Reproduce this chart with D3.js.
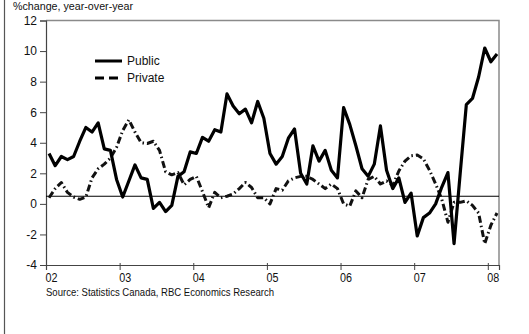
<!DOCTYPE html>
<html>
<head>
<meta charset="utf-8">
<script src="https://cdn.jsdelivr.net/npm/d3@7"></script>
<style>
  html, body { margin: 0; padding: 0; background: #fff; }
  svg { display: block; }
  .reg { font-family: "Liberation Sans", Arial, sans-serif; font-style: normal; }
</style>
</head>
<body>
<script>
// ---- Data (monthly, Jan 2002 - Feb 2008), % change y/y ----
const startYear = 2002;
const publicValues = [
  3.3, 2.5, 3.1, 2.9, 3.1, 4.1, 5.0, 4.7, 5.3, 3.6, 3.5, 1.6,
  0.45, 1.5, 2.55, 1.7, 1.6, -0.3, 0.1, -0.5, -0.1, 1.8, 2.1, 3.4,
  3.3, 4.35, 4.1, 4.85, 4.7, 7.2, 6.4, 5.9, 6.2, 5.3, 6.7, 5.6,
  3.3, 2.6, 3.1, 4.3, 4.9, 2.0, 1.3, 3.8, 2.8, 3.5, 2.2, 1.7,
  6.3, 5.2, 3.8, 2.3, 1.8, 2.6, 5.1, 2.2, 1.0, 1.7, 0.1, 0.7,
  -2.1, -0.9, -0.6, 0.0, 1.1, 2.05, -2.6, 2.0, 6.5, 6.9, 8.3, 10.2,
  9.3, 9.8
];
const privateValues = [
  0.4, 1.0, 1.4, 0.75, 0.45, 0.3, 0.45, 1.7, 2.3, 2.6, 3.0, 3.7,
  4.8, 5.5, 4.7, 4.0, 3.95, 4.1, 3.5, 2.1, 1.9, 2.05, 1.25, 1.6,
  1.8, 0.8, -0.25, 0.75, 0.4, 0.5, 0.65, 1.0, 1.4, 1.07, 0.4, 0.4,
  0.0, 1.0, 0.9, 1.5, 1.7, 1.8, 1.8, 1.6, 1.3, 1.0, 1.3, 1.0,
  0.0, -0.15, 0.85, 0.4, 1.6, 1.8, 1.3, 1.5, 1.2, 2.15, 2.8, 3.15,
  3.2, 2.95, 2.2, 1.3, 0.3, -1.2, 0.1, 0.1, 0.2, -0.1, -0.6, -2.6,
  -1.4, -0.6
];
const seriesNames = ["Public", "Private"];
const yearLabels = ["02", "03", "04", "05", "06", "07", "08"];
const yTicks = [12, 10, 8, 6, 4, 2, 0, -2, -4];
const refLineValue = 0.5;
const titleText = "%change, year-over-year";
const sourceText = "Source: Statistics Canada, RBC Economics Research";

// ---- Layout ----
const W = 529, H = 334;
const mLeft = 46, mRight = 499, mTop = 20.5, mBottom = 265;

const svg = d3.select("body").append("svg").attr("width", W).attr("height", H);

const x = d3.scaleLinear().domain([2002, 2008.152]).range([mLeft, mRight]);
const y = d3.scaleLinear().domain([-4, 12]).range([mBottom, mTop]);

const xOf = i => x(startYear + (i + 0.5) / 12);

// outer left frame line
svg.append("line").attr("x1", 4.5).attr("x2", 4.5).attr("y1", 0).attr("y2", H)
  .attr("stroke", "#555").attr("stroke-width", 1.2);

// plot frame: top and right (gray)
svg.append("path")
  .attr("d", `M${mLeft},${mTop}H${mRight}V${mBottom}`)
  .attr("fill", "none").attr("stroke", "#8a8a8a").attr("stroke-width", 1.5);

// y axis
const yAxis = d3.axisLeft(y).tickValues(yTicks).tickSize(6).tickPadding(3)
  .tickFormat(d => String(d));
const gy = svg.append("g").attr("transform", `translate(${mLeft},0)`).call(yAxis);
gy.select(".domain").attr("stroke", "#444").attr("stroke-width", 1.2);
gy.selectAll(".tick line").attr("stroke", "#444").attr("stroke-width", 1);
gy.selectAll(".tick text").attr("class", "reg").attr("font-size", 12).attr("fill", "#111");

// x axis
const xAxis = d3.axisBottom(x)
  .tickValues(yearLabels.map((d, i) => startYear + i))
  .tickSize(5).tickFormat((d, i) => yearLabels[i]);
const gx = svg.append("g").attr("transform", `translate(0,${mBottom})`).call(xAxis);
gx.select(".domain").attr("stroke", "#444").attr("stroke-width", 1.2);
gx.selectAll(".tick line").attr("stroke", "#444").attr("stroke-width", 1).attr("y1", -2);
gx.selectAll(".tick text").attr("class", "reg").attr("font-size", 12)
  .attr("fill", "#111").attr("text-anchor", "start").attr("dx", -1).attr("y", 8).attr("dy", "0.71em")
  .attr("textLength", 12).attr("lengthAdjust", "spacingAndGlyphs");

// reference line
svg.append("line")
  .attr("x1", mLeft).attr("x2", mRight)
  .attr("y1", y(refLineValue)).attr("y2", y(refLineValue))
  .attr("stroke", "#000").attr("stroke-width", 1.2);

// lines
const line = d3.line().x((d, i) => xOf(i)).y(d => y(d));

svg.append("path").datum(privateValues)
  .attr("d", line).attr("fill", "none").attr("stroke", "#111")
  .attr("stroke-width", 3).attr("stroke-dasharray", "7,3,1.5,3")
  .attr("stroke-linejoin", "round");

svg.append("path").datum(publicValues)
  .attr("d", line).attr("fill", "none").attr("stroke", "#000")
  .attr("stroke-width", 3.2).attr("stroke-linejoin", "round");

// legend
const legend = svg.append("g");
seriesNames.forEach((name, i) => {
  const ly = 61 + i * 17;
  legend.append("line").attr("x1", 95).attr("x2", 122).attr("y1", ly).attr("y2", ly)
    .attr("stroke", "#000").attr("stroke-width", 3)
    .attr("stroke-dasharray", i === 1 ? "9,5" : null);
  legend.append("text").attr("class", "reg").attr("x", 127).attr("y", ly + 4.2)
    .attr("font-size", 12).attr("fill", "#111").text(name);
});

// title & source
svg.append("text").attr("class", "reg").attr("x", 13).attr("y", 10)
  .attr("font-size", 11).attr("fill", "#111")
  .attr("textLength", 120).attr("lengthAdjust", "spacingAndGlyphs").text(titleText);
svg.append("text").attr("class", "reg").attr("x", 46).attr("y", 296)
  .attr("font-size", 11).attr("fill", "#111")
  .attr("textLength", 228).attr("lengthAdjust", "spacingAndGlyphs").text(sourceText);
</script>
</body>
</html>
